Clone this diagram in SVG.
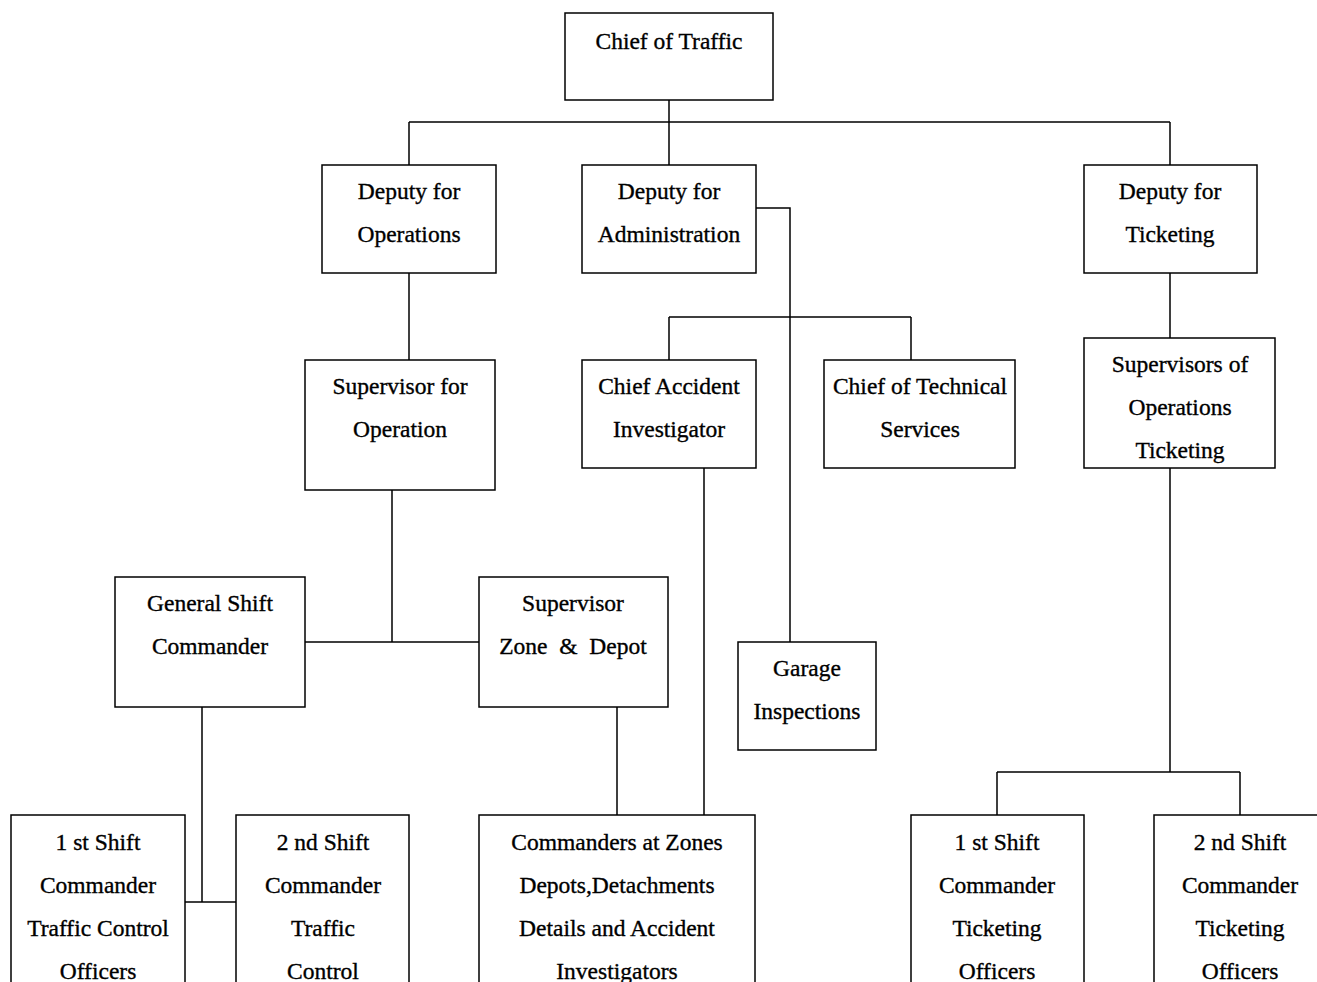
<svg xmlns="http://www.w3.org/2000/svg" width="1317" height="982" viewBox="0 0 1317 982">
<style>
.box{fill:#fff;stroke:#000;stroke-width:1.5}
.ln{fill:none;stroke:#000;stroke-width:1.5}
text{font-family:"Liberation Serif","Times New Roman",serif;font-size:23.5px;fill:#000;stroke:#000;stroke-width:0.35;text-anchor:middle}
</style>
<rect width="1317" height="982" fill="#fff"/>
<g id="connectors">
<path class="ln" d="M669,100V165M409,122H1170M409,122V165M1170,122V165"/>
<path class="ln" d="M756,208H790V642"/>
<path class="ln" d="M669,317H911M669,317V360M911,317V360"/>
<path class="ln" d="M409,273V360"/>
<path class="ln" d="M1170,273V338M1170,468V772M997,772H1240M997,772V815M1240,772V815"/>
<path class="ln" d="M392,490V642M305,642H479"/>
<path class="ln" d="M202,707V902M185,902H236"/>
<path class="ln" d="M617,707V815M704,468V815"/>
</g>
<g id="chief-traffic"><rect class="box" x="565" y="13" width="208" height="87"/><text x="669" y="49">Chief of Traffic</text></g>
<g id="deputy-operations"><rect class="box" x="322" y="165" width="174" height="108"/><text x="409" y="199">Deputy for</text><text x="409" y="242">Operations</text></g>
<g id="deputy-administration"><rect class="box" x="582" y="165" width="174" height="108"/><text x="669" y="199">Deputy for</text><text x="669" y="242">Administration</text></g>
<g id="deputy-ticketing"><rect class="box" x="1084" y="165" width="173" height="108"/><text x="1170" y="199">Deputy for</text><text x="1170" y="242">Ticketing</text></g>
<g id="supervisor-operation"><rect class="box" x="305" y="360" width="190" height="130"/><text x="400" y="394">Supervisor for</text><text x="400" y="437">Operation</text></g>
<g id="chief-accident"><rect class="box" x="582" y="360" width="174" height="108"/><text x="669" y="394">Chief Accident</text><text x="669" y="437">Investigator</text></g>
<g id="chief-technical"><rect class="box" x="824" y="360" width="191" height="108"/><text x="920" y="394">Chief of Technical</text><text x="920" y="437">Services</text></g>
<g id="supervisors-ticketing"><rect class="box" x="1084" y="338" width="191" height="130"/><text x="1180" y="372">Supervisors of</text><text x="1180" y="415">Operations</text><text x="1180" y="458">Ticketing</text></g>
<g id="general-shift"><rect class="box" x="115" y="577" width="190" height="130"/><text x="210" y="611">General Shift</text><text x="210" y="654">Commander</text></g>
<g id="supervisor-zone"><rect class="box" x="479" y="577" width="189" height="130"/><text x="573" y="611">Supervisor</text><text x="573" y="654">Zone &#160;&amp;&#160; Depot</text></g>
<g id="garage"><rect class="box" x="738" y="642" width="138" height="108"/><text x="807" y="676">Garage</text><text x="807" y="719">Inspections</text></g>
<g id="first-shift-traffic"><rect class="box" x="11" y="815" width="174" height="190"/><text x="98" y="850">1 st Shift</text><text x="98" y="893">Commander</text><text x="98" y="936">Traffic Control</text><text x="98" y="979">Officers</text></g>
<g id="second-shift-traffic"><rect class="box" x="236" y="815" width="173" height="190"/><text x="323" y="850">2 nd Shift</text><text x="323" y="893">Commander</text><text x="323" y="936">Traffic</text><text x="323" y="979">Control</text></g>
<g id="commanders-zones"><rect class="box" x="479" y="815" width="276" height="190"/><text x="617" y="850">Commanders at Zones</text><text x="617" y="893">Depots,Detachments</text><text x="617" y="936">Details and Accident</text><text x="617" y="979">Investigators</text></g>
<g id="first-shift-ticketing"><rect class="box" x="911" y="815" width="173" height="190"/><text x="997" y="850">1 st Shift</text><text x="997" y="893">Commander</text><text x="997" y="936">Ticketing</text><text x="997" y="979">Officers</text></g>
<g id="second-shift-ticketing"><rect class="box" x="1154" y="815" width="174" height="190"/><text x="1240" y="850">2 nd Shift</text><text x="1240" y="893">Commander</text><text x="1240" y="936">Ticketing</text><text x="1240" y="979">Officers</text></g>
</svg>
